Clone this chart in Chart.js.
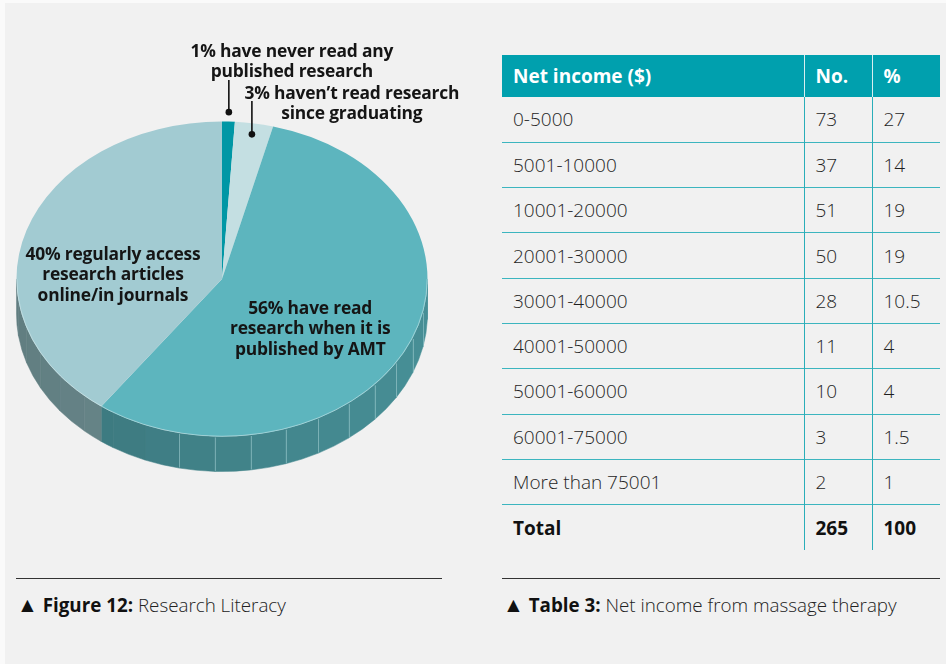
<!DOCTYPE html>
<html>
<head>
<meta charset="utf-8">
<script src="https://cdn.jsdelivr.net/npm/chart.js@4/dist/chart.umd.min.js"></script>
<style>
  html, body { margin: 0; padding: 0; }
  body {
    width: 946px; height: 664px; position: relative; overflow: hidden;
    background: #f1f1f1;
    font-family: "Open Sans", "Noto Sans", sans-serif;
  }
  .edge-left { position: absolute; left: 0; top: 0; width: 5px; height: 664px; background: #fafafa; }
  .edge-top { position: absolute; left: 0; top: 0; width: 946px; height: 3px; background: #fafafa; }
  #pie { position: absolute; left: 0; top: 0; }
  .plabel {
    position: absolute; text-align: center; font-weight: 700; color: #151515;
    font-size: 17.4px; line-height: 20.6px; letter-spacing: -0.2px; white-space: nowrap;
  }
  table {
    position: absolute; left: 502px; top: 55px; width: 438px;
    border-collapse: collapse; table-layout: fixed;
    font-size: 19px; color: #1f1f1f;
  }
  th {
    background: #00a0ae; color: #fff; font-weight: 700; text-align: left;
    height: 42px; padding: 0 0 0 11px; box-sizing: border-box;
    border-left: 1.5px solid #d8eef0;
  }
  th:first-child { border-left: none; }
  td {
    height: 45.3px; padding: 0 0 0 11px; box-sizing: border-box; font-weight: 300;
    border-top: 1.5px solid #3cb5bf; border-left: 1.5px solid #2aaeb9;
  }
  td:first-child { border-left: none; }
  tr:nth-child(2) td { border-top: none; }
  tr.total td { font-weight: 700; color: #111; }
  .rule { position: absolute; top: 578px; height: 1.4px; background: #333; }
  .caption { position: absolute; top: 592px; font-size: 18.8px; color: #222; font-weight: 300; white-space: nowrap; }
  .caption b { font-weight: 700; color: #111; }
  .caption .tri { font-family: "DejaVu Sans", sans-serif; font-size: 21px; line-height: 18px; color: #111; }
</style>
</head>
<body>
<div class="edge-left"></div>
<div class="edge-top"></div>
<canvas id="pie" width="480" height="500"></canvas>
<div id="labels"></div>
<table id="income"></table>
<div class="rule" style="left:16px; width:426px"></div>
<div class="rule" style="left:502px; width:438px"></div>
<div class="caption" style="left:17px"><span class="tri">▲</span> <b>Figure 12:</b> Research Literacy</div>
<div class="caption" style="left:503px"><span class="tri">▲</span> <b>Table 3:</b> Net income from massage therapy</div>

<script>
// Figure 12: research literacy shares (clockwise from 12 o'clock)
const literacyLabels = [
  ['1% have never read any', 'published research'],
  ['3% haven’t read research', 'since graduating'],
  ['56% have read', 'research when it is', 'published by AMT'],
  ['40% regularly access', 'research articles', 'online/in journals']
];
const literacyValues = [1, 3, 56, 40];

// Table 3: net income from massage therapy
const incomeBands = ['0-5000', '5001-10000', '10001-20000', '20001-30000', '30001-40000',
  '40001-50000', '50001-60000', '60001-75000', 'More than 75001'];
const respondents = [73, 37, 51, 50, 28, 11, 10, 3, 2];
const percents = ['27', '14', '19', '19', '10.5', '4', '4', '1.5', '1'];
const tableHeader = ['Net income ($)', 'No.', '%'];
const totalRow = ['Total', '265', '100'];

// Styling for the pie
const topColors = ['#0097a5', '#c4dfe2', '#5db5be', '#a2cbd2'];
const sideColors = ['#00707b', '#9db6b9', '#478f96', '#76999d'];
const tilt = 157.5 / 205.5;   // vertical squash of the disc
const depth = 35;             // thickness of the disc on screen
// label boxes: centre x, top y, and leader (radius factor, line top) when present
const labelBoxes = [
  { cx: 292, top: 39.7, leader: { rf: 1.06, lineTop: 80 } },
  { cx: 352, top: 81.7, leader: { rf: 0.93, lineTop: 101 } },
  { cx: 310, top: 296.6 },
  { cx: 113, top: 242.8 }
];

function shade(hex, f) {
  const n = parseInt(hex.slice(1), 16);
  const c = [(n >> 16) & 255, (n >> 8) & 255, n & 255].map(v => Math.max(0, Math.min(255, Math.round(v * f))));
  return 'rgb(' + c.join(',') + ')';
}

const deg = Math.PI / 180;
const disc3d = {
  id: 'disc3d',
  beforeDatasetsDraw(chart) {
    const ctx = chart.ctx;
    const arcs = chart.getDatasetMeta(0).data;
    const { x, y, outerRadius: r } = arcs[0];
    const d = depth / tilt;
    ctx.save();
    ctx.translate(0, y); ctx.scale(1, tilt); ctx.translate(0, -y);
    arcs.forEach((arc, i) => {
      for (let k = -1; k <= 1; k++) {
        const lo = Math.max(arc.startAngle, 2 * Math.PI * k);
        const hi = Math.min(arc.endAngle, 2 * Math.PI * k + Math.PI);
        if (hi <= lo) continue;
        // split into 10° facets for a faceted side wall
        const cuts = [lo];
        for (let a = 2 * Math.PI * k + 2 * deg; a < hi; a += 10 * deg) if (a > lo) cuts.push(a);
        cuts.push(hi);
        for (let j = 0; j < cuts.length - 1; j++) {
          const a0 = cuts[j], a1 = cuts[j + 1], m = (a0 + a1) / 2;
          ctx.beginPath();
          ctx.arc(x, y, r, a0, a1);
          ctx.lineTo(x + r * Math.cos(a1), y + r * Math.sin(a1) + d);
          ctx.arc(x, y + d, r, a1, a0, true);
          ctx.closePath();
          ctx.fillStyle = shade(sideColors[i], 0.91 + 0.09 * Math.cos(m));
          ctx.fill();
          ctx.strokeStyle = ctx.fillStyle; ctx.lineWidth = 0.6; ctx.stroke();
        }
        // thin facet seams on the front of the wall
        ctx.save();
        ctx.setTransform(1, 0, 0, 1, 0, 0);
        ctx.strokeStyle = 'rgba(160,205,210,0.55)';
        ctx.lineWidth = 1;
        for (let j = 1; j < cuts.length - 1; j++) {
          const a = cuts[j] - 2 * Math.PI * k;
          if (a < 10 * deg || a > 105 * deg) continue;
          const sx = Math.round(x + r * Math.cos(a)) + 0.5;
          const sy = y + r * Math.sin(a) * tilt;
          ctx.beginPath(); ctx.moveTo(sx, sy + 1); ctx.lineTo(sx, sy + depth - 0.5); ctx.stroke();
        }
        ctx.restore();
      }
    });
  },
  afterDatasetsDraw(chart) {
    const ctx = chart.ctx;
    const arcs = chart.getDatasetMeta(0).data;
    const { x, y, outerRadius: r } = arcs[0];
    // light rim along the front edge of the top face
    ctx.beginPath();
    ctx.arc(x, y, r - 0.3, 0, Math.PI);
    ctx.strokeStyle = 'rgba(220,240,242,0.55)';
    ctx.lineWidth = 1;
    ctx.stroke();
    ctx.restore();
    // leader lines with dots
    arcs.forEach((arc, i) => {
      const lead = labelBoxes[i].leader;
      if (!lead) return;
      const mid = (arc.startAngle + arc.endAngle) / 2;
      const sx = x + lead.rf * r * Math.cos(mid);
      const sy = y + lead.rf * r * Math.sin(mid) * tilt;
      ctx.save();
      ctx.strokeStyle = '#111'; ctx.fillStyle = '#111'; ctx.lineWidth = 1.6;
      ctx.beginPath(); ctx.moveTo(sx, lead.lineTop); ctx.lineTo(sx, sy); ctx.stroke();
      ctx.beginPath(); ctx.arc(sx, sy, 3.3, 0, 2 * Math.PI); ctx.fill();
      ctx.restore();
    });
  }
};

new Chart(document.getElementById('pie'), {
  type: 'pie',
  data: {
    labels: literacyLabels.map(l => l.join(' ')),
    datasets: [{ data: literacyValues, backgroundColor: topColors, borderWidth: 0 }]
  },
  options: {
    responsive: false,
    animation: false,
    events: [],
    layout: { padding: { left: 16.5, right: 52.5, top: 73.5, bottom: 15.5 } },
    plugins: { legend: { display: false }, tooltip: { enabled: false } }
  },
  plugins: [disc3d]
});

// slice labels
const labelsEl = document.getElementById('labels');
literacyLabels.forEach((lines, i) => {
  const box = labelBoxes[i];
  const div = document.createElement('div');
  div.className = 'plabel';
  div.style.top = box.top + 'px';
  div.innerHTML = lines.join('<br>');
  labelsEl.appendChild(div);
  div.style.left = (box.cx - div.offsetWidth / 2) + 'px';
});

// income table
const table = document.getElementById('income');
const colgroup = '<colgroup><col style="width:302px"><col style="width:68px"><col style="width:68px"></colgroup>';
let html = colgroup + '<tr>' + tableHeader.map(h => '<th>' + h + '</th>').join('') + '</tr>';
incomeBands.forEach((band, i) => {
  html += '<tr><td>' + band + '</td><td>' + respondents[i] + '</td><td>' + percents[i] + '</td></tr>';
});
html += '<tr class="total">' + totalRow.map(t => '<td>' + t + '</td>').join('') + '</tr>';
table.innerHTML = html;
</script>
</body>
</html>
